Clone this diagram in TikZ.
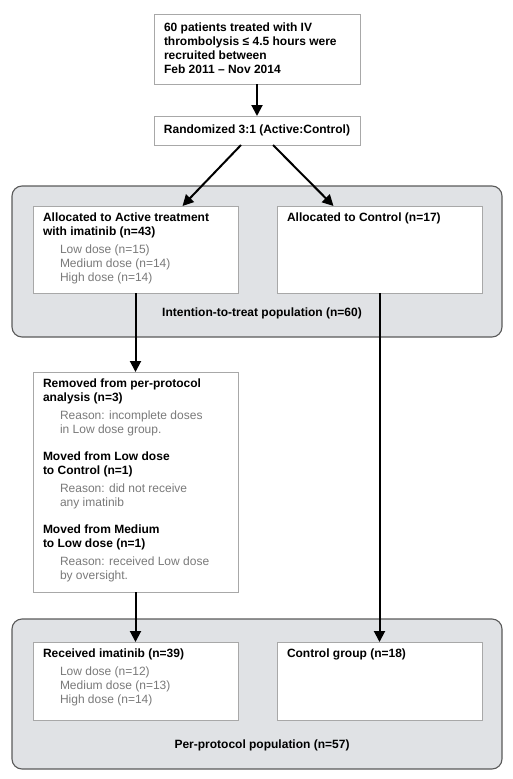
\documentclass[tikz,border=0pt]{standalone}
\usepackage{fontspec}
\setmainfont{Liberation Sans}
\usepackage{tikz}
\usetikzlibrary{
	positioning,
	arrows.meta
}
\definecolor{groupfill}{HTML}{E0E2E5}
\definecolor{groupline}{HTML}{5A5A5A}
\definecolor{boxline}{HTML}{A8A8A8}
\definecolor{subtext}{HTML}{7A7A7A}
\newcommand{\cellbox}[2]{\parbox[t][#1][t]{185pt}{#2}}
\newcommand{\dose}[1]{\hspace*{17pt}{\color{subtext}#1}}

\begin{document}
\begin{tikzpicture}[x=1pt, y=-1pt,
			font=\fontsize{12}{14}\selectfont,
			framed/.style={rectangle, draw=boxline, fill=white, line width=0.8pt, inner xsep=10pt, inner ysep=7pt, outer sep=0},
			group/.style={rectangle, rounded corners=10pt, draw=groupline, fill=groupfill, line width=1.1pt, outer sep=0, minimum width=490pt, minimum height=151pt},
			plain/.style={inner sep=0, font=\fontsize{12}{14}\selectfont\bfseries},
			arrow/.style={line width=2pt, -{Triangle[width=11pt,length=11pt]}}]

			\useasboundingbox (0,0) rectangle (512,779);

			% population groups
			\node[group, anchor=north west] (itt) at (12,186) {};
			\node[plain, above=18pt of itt.south, xshift=5pt] (ittlabel) {Intention-to-treat population (n=60)};
			\node[group, anchor=north west, minimum height=150pt] (pp) at (12,619) {};
			\node[plain, above=18pt of pp.south, xshift=5pt] (pplabel) {Per-protocol population (n=57)};

			\node[framed, anchor=north west, inner ysep=9pt] (patients) at (154,14) {\parbox[t][52pt][t]{186pt}{\bfseries
				60 patients treated with IV\\ thrombolysis ≤ 4.5 hours were\\ recruited between\\ Feb 2011 – Nov 2014}};
			\node[framed, below=32pt of patients, minimum width=206pt, minimum height=29pt, inner sep=0, font=\fontsize{12}{14}\selectfont\bfseries] (rand) {Randomized 3:1 (Active:Control)};

			\node[framed, below right=20pt and 21pt of itt.north west] (active) {\cellbox{73pt}{%
				\textbf{Allocated to Active treatment\\ with imatinib (n=43)}\\[4pt]
				\dose{Low dose (n=15)}\\ \dose{Medium dose (n=14)}\\ \dose{High dose (n=14)}}};
			\node[framed, right=39pt of active] (control) {\cellbox{73pt}{\textbf{Allocated to Control (n=17)}}};

			\node[framed, below=79pt of active] (removed) {\cellbox{206pt}{%
				\textbf{Removed from per-protocol\\ analysis (n=3)}\\[4pt]
				\dose{Reason: incomplete doses}\\ \dose{in Low dose group.}\\[13pt]
				\textbf{Moved from Low dose\\ to Control (n=1)}\\[4pt]
				\dose{Reason: did not receive}\\ \dose{any imatinib}\\[13pt]
				\textbf{Moved from Medium\\ to Low dose (n=1)}\\[4pt]
				\dose{Reason: received Low dose}\\ \dose{by oversight.}}};

			\node[framed, below=50pt of removed] (received) {\cellbox{64pt}{%
				\textbf{Received imatinib (n=39)}\\[4pt]
				\dose{Low dose (n=12)}\\ \dose{Medium dose (n=13)}\\ \dose{High dose (n=14)}}};
			\node[framed, right=39pt of received] (ctrlgroup) {\cellbox{64pt}{\textbf{Control group (n=18)}}};

			\draw[arrow] (patients) -- (rand);
			\draw[arrow] ([xshift=-16pt]rand.south) -- ([xshift=47pt]active.north);
			\draw[arrow] ([xshift=16pt]rand.south) -- ([xshift=-46pt]control.north);
			\draw[arrow] (active) -- (removed);
			\draw[arrow] (removed) -- (received);
			\draw[arrow] (control) -- (ctrlgroup);
		\end{tikzpicture}
\end{document}
